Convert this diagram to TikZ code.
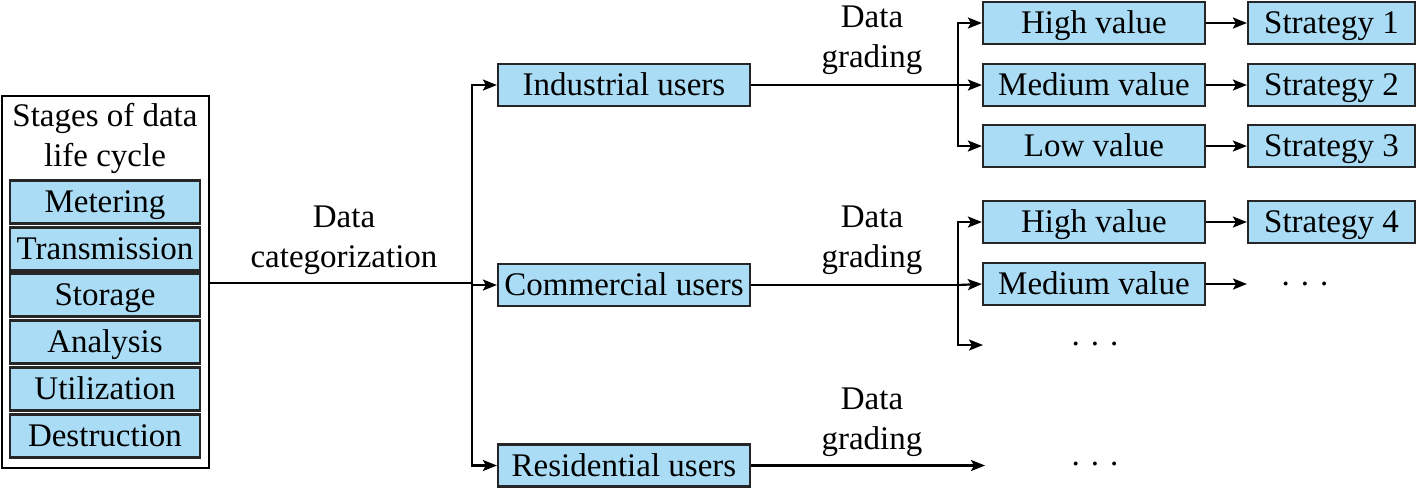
\documentclass[tikz,border=0pt]{standalone}
\usepackage{fontspec}
\setmainfont{Liberation Serif}
\usetikzlibrary{arrows.meta}
\definecolor{boxblue}{RGB}{170,221,245}
\begin{document}
\begin{tikzpicture}[x=0.5pt,y=-0.5pt,
  box/.style={draw=black!85,line width=1.1pt,fill=boxblue,inner sep=0pt,text height=14pt,text depth=3.5pt,font=\fontsize{16.5}{18}\selectfont},
  stage/.style={box,minimum width=95pt,minimum height=21.5pt},
  user/.style={box,minimum width=126pt,minimum height=21pt},
  val/.style={box,minimum width=111pt,minimum height=21pt},
  strat/.style={box,minimum width=83.5pt,minimum height=21pt},
  lbl/.style={align=center,font=\fontsize{16.5}{20}\selectfont,inner sep=0pt},
  dots/.style={font=\fontsize{16.5}{18}\selectfont,inner sep=0pt},
  conn/.style={line width=1.1pt},
  arr/.style={conn,-{Stealth[length=7pt,width=5.5pt,inset=1.5pt]}}]
\useasboundingbox (0,0) rectangle (1419,489);
% left column
\node[draw=black,line width=1.1pt,minimum width=103.5pt,minimum height=186pt,inner sep=0pt] (outer) at (105.5,282) {};
\node[lbl] (title) at (105,138) {Stages of data\\life cycle};
\node[stage] (s1) at (105,202) {Metering};
\node[stage] (s2) at (105,249) {Transmission};
\node[stage] (s3) at (105,295) {Storage};
\node[stage] (s4) at (105,342) {Analysis};
\node[stage] (s5) at (105,389) {Utilization};
\node[stage] (s6) at (105,436) {Destruction};
% users
\node[user] (ind) at (624,85) {Industrial users};
\node[user] (com) at (624,285) {Commercial users};
\node[user] (res) at (624,465.5) {Residential users};
\coordinate (split) at (472,283);
\draw[conn] (outer.east |- split) -- (split);
\draw[arr] (split) |- (ind.west);
\draw[arr] (split) -- (split |- com.west) -- (com.west);
\draw[arr] (split) |- (res.west);
\node[lbl] (cat) at (344,240) {Data\\categorization};
% industrial branch
\node[val] (h1) at (1094,23) {High value};
\node[val] (m1) at (1094,85) {Medium value};
\node[val] (l1) at (1094,146) {Low value};
\node[strat] (st1) at (1331.5,23) {Strategy 1};
\node[strat] (st2) at (1331.5,85) {Strategy 2};
\node[strat] (st3) at (1331.5,146) {Strategy 3};
\coordinate (b1) at (958,85);
\draw[conn] (ind.east) -- (b1);
\draw[arr] (b1) -- (m1.west);
\draw[arr] (b1) |- (h1.west);
\draw[arr] (b1) |- (l1.west);
\draw[arr] (h1) -- (st1);
\draw[arr] (m1) -- (st2);
\draw[arr] (l1) -- (st3);
\node[lbl] (g1) at (872,40) {Data\\grading};
% commercial branch
\node[val] (h2) at (1094,222) {High value};
\node[val] (m2) at (1094,284) {Medium value};
\node[strat] (st4) at (1331.5,222) {Strategy 4};
\coordinate (b2) at (958,285);
\coordinate (e2) at (983,345);
\coordinate (e3) at (1247,284);
\node[dots] (d2) at (1095,344) {.\,\,.\,\,.};
\node[dots] (d3) at (1305,284) {.\,\,.\,\,.};
\draw[conn] (com.east) -- (b2);
\draw[arr] (b2) -- (m2.west);
\draw[arr] (b2) |- (h2.west);
\draw[arr] (b2) |- (e2);
\draw[arr] (h2) -- (st4);
\draw[arr] (m2.east) -- (e3);
\node[lbl] (g2) at (872,240) {Data\\grading};
% residential branch
\coordinate (e4) at (985,465.5);
\node[dots] (d4) at (1095,464) {.\,\,.\,\,.};
\draw[arr] (res.east) -- (e4);
\node[lbl] (g3) at (872,422) {Data\\grading};
\end{tikzpicture}
\end{document}
